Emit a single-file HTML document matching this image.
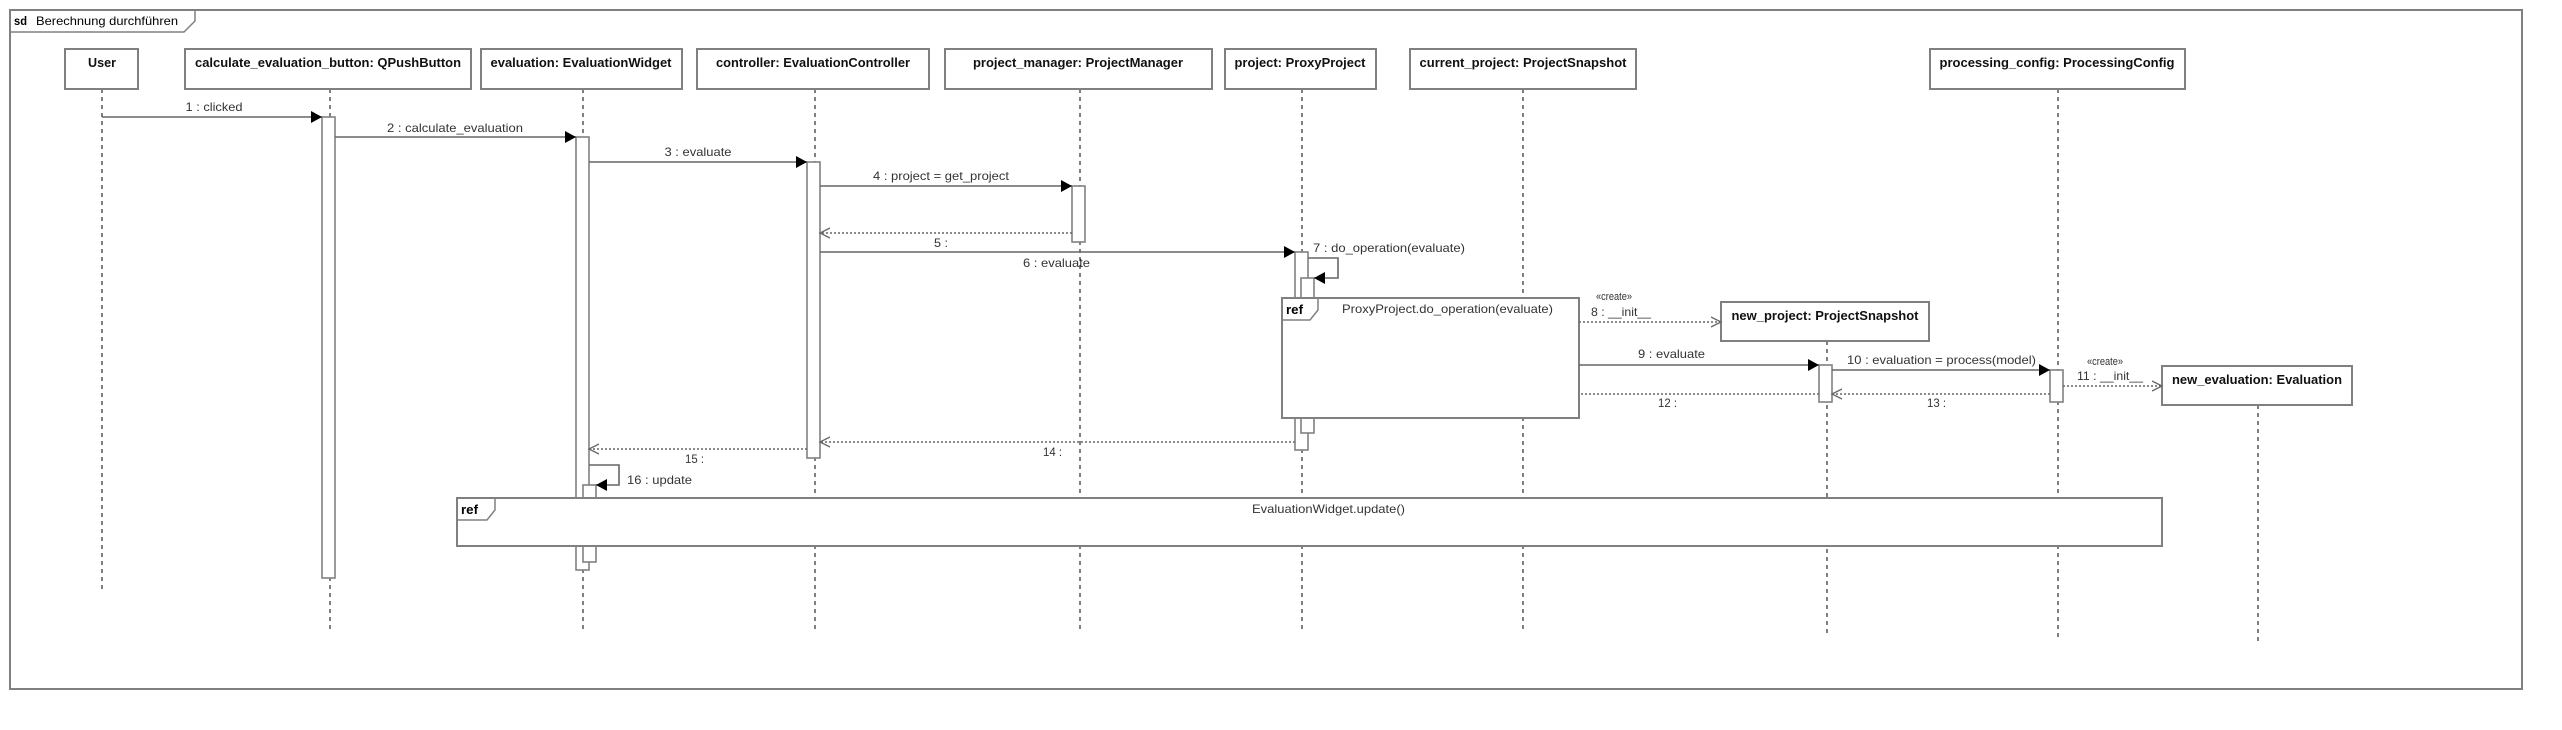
<!DOCTYPE html>
<html><head><meta charset="utf-8"><style>
html,body{margin:0;padding:0;background:#fff;}
svg{display:block;}
text{font-family:"Liberation Sans Narrow","Liberation Sans",sans-serif;}
.h{font-size:13px;font-weight:bold;fill:#111;}
.m{font-size:12px;fill:#333;}
.box{fill:#fff;stroke:#808080;stroke-width:2;}
.act{fill:#fff;stroke:#808080;stroke-width:1.6;}
.ll{stroke:#000;stroke-width:1;stroke-dasharray:4,4;fill:none;}
.msg{stroke:#666;stroke-width:1.6;fill:none;}
.ret{stroke:#666;stroke-width:1.6;stroke-dasharray:2,2;fill:none;}
</style></head><body>
<svg width="2562" height="730" viewBox="0 0 2562 730" xmlns="http://www.w3.org/2000/svg">
<defs>
<marker id="f" markerWidth="12" markerHeight="12" refX="11" refY="6" orient="auto" markerUnits="userSpaceOnUse"><path d="M0,0 L11,6 L0,12 z" fill="#000"/></marker>
<marker id="o" markerWidth="12" markerHeight="12" refX="10" refY="6" orient="auto" markerUnits="userSpaceOnUse"><path d="M0,1 L10,6 L0,11" fill="none" stroke="#666" stroke-width="1.3"/></marker>
</defs>
<rect x="10" y="10" width="2512" height="679" fill="none" stroke="#808080" stroke-width="2"/>
<path d="M10,32 L184,32 L195,21 L195,10" fill="none" stroke="#808080" stroke-width="1.5"/>
<text x="14" y="25" style="font-size:12px;font-weight:bold" textLength="13" lengthAdjust="spacingAndGlyphs">sd</text>
<text x="36" y="25" style="font-size:12px" textLength="142" lengthAdjust="spacingAndGlyphs">Berechnung durchführen</text>

<line class="ll" x1="102" y1="89" x2="102" y2="591"/>
<line class="ll" x1="330" y1="89" x2="330" y2="633"/>
<line class="ll" x1="583" y1="89" x2="583" y2="633"/>
<line class="ll" x1="815" y1="89" x2="815" y2="633"/>
<line class="ll" x1="1080" y1="89" x2="1080" y2="633"/>
<line class="ll" x1="1302" y1="89" x2="1302" y2="633"/>
<line class="ll" x1="1523" y1="89" x2="1523" y2="633"/>
<line class="ll" x1="1827" y1="341" x2="1827" y2="635"/>
<line class="ll" x1="2058" y1="89" x2="2058" y2="639"/>
<line class="ll" x1="2258" y1="405" x2="2258" y2="642"/>

<rect class="box" x="65" y="49" width="73" height="40"/><text class="h" x="102" y="67" text-anchor="middle" textLength="28" lengthAdjust="spacingAndGlyphs">User</text>
<rect class="box" x="185" y="49" width="286" height="40"/><text class="h" x="328" y="67" text-anchor="middle" textLength="266" lengthAdjust="spacingAndGlyphs">calculate_evaluation_button: QPushButton</text>
<rect class="box" x="481" y="49" width="201" height="40"/><text class="h" x="581" y="67" text-anchor="middle" textLength="181" lengthAdjust="spacingAndGlyphs">evaluation: EvaluationWidget</text>
<rect class="box" x="697" y="49" width="232" height="40"/><text class="h" x="813" y="67" text-anchor="middle" textLength="194" lengthAdjust="spacingAndGlyphs">controller: EvaluationController</text>
<rect class="box" x="945" y="49" width="267" height="40"/><text class="h" x="1078" y="67" text-anchor="middle" textLength="210" lengthAdjust="spacingAndGlyphs">project_manager: ProjectManager</text>
<rect class="box" x="1225" y="49" width="151" height="40"/><text class="h" x="1300" y="67" text-anchor="middle" textLength="131" lengthAdjust="spacingAndGlyphs">project: ProxyProject</text>
<rect class="box" x="1410" y="49" width="226" height="40"/><text class="h" x="1523" y="67" text-anchor="middle" textLength="207" lengthAdjust="spacingAndGlyphs">current_project: ProjectSnapshot</text>
<rect class="box" x="1930" y="49" width="255" height="40"/><text class="h" x="2057" y="67" text-anchor="middle" textLength="235" lengthAdjust="spacingAndGlyphs">processing_config: ProcessingConfig</text>
<rect class="box" x="1721" y="302" width="208" height="39"/><text class="h" x="1825" y="320" text-anchor="middle" textLength="187" lengthAdjust="spacingAndGlyphs">new_project: ProjectSnapshot</text>
<rect class="box" x="2162" y="366" width="190" height="39"/><text class="h" x="2257" y="384" text-anchor="middle" textLength="170" lengthAdjust="spacingAndGlyphs">new_evaluation: Evaluation</text>

<rect class="act" x="322" y="117" width="13" height="461"/>
<rect class="act" x="576" y="137" width="13" height="433"/>
<rect class="act" x="583" y="485" width="13" height="77"/>
<rect class="act" x="807" y="162" width="13" height="296"/>
<rect class="act" x="1072" y="186" width="13" height="56"/>
<rect class="act" x="1295" y="252" width="13" height="198"/>
<rect class="act" x="1301" y="278" width="13" height="155"/>
<rect class="act" x="1819" y="365" width="13" height="37"/>
<rect class="act" x="2050" y="370" width="13" height="32"/>

<line class="msg" x1="102" y1="117" x2="322" y2="117" marker-end="url(#f)"/><text class="m" x="214" y="111" text-anchor="middle" textLength="57" lengthAdjust="spacingAndGlyphs">1 : clicked</text>
<line class="msg" x1="335" y1="137" x2="576" y2="137" marker-end="url(#f)"/><text class="m" x="455" y="132" text-anchor="middle" textLength="136" lengthAdjust="spacingAndGlyphs">2 : calculate_evaluation</text>
<line class="msg" x1="589" y1="162" x2="807" y2="162" marker-end="url(#f)"/><text class="m" x="698" y="156" text-anchor="middle" textLength="67" lengthAdjust="spacingAndGlyphs">3 : evaluate</text>
<line class="msg" x1="820" y1="186" x2="1072" y2="186" marker-end="url(#f)"/><text class="m" x="873" y="180" textLength="136" lengthAdjust="spacingAndGlyphs">4 : project = get_project</text>
<line class="ret" x1="1072" y1="233" x2="820" y2="233" marker-end="url(#o)"/><text class="m" x="934" y="247" textLength="14" lengthAdjust="spacingAndGlyphs">5 :</text>
<line class="msg" x1="820" y1="252" x2="1295" y2="252" marker-end="url(#f)"/><text class="m" x="1023" y="267" textLength="67" lengthAdjust="spacingAndGlyphs">6 : evaluate</text>
<path class="msg" d="M1308,258 L1338,258 L1338,278 L1314,278" marker-end="url(#f)"/><text class="m" x="1313" y="252" textLength="152" lengthAdjust="spacingAndGlyphs">7 : do_operation(evaluate)</text>

<rect x="1282" y="298" width="297" height="120" fill="#fff" stroke="#808080" stroke-width="2"/>
<path d="M1282,320 L1310,320 L1318,310 L1318,298" fill="none" stroke="#808080" stroke-width="1.5"/>
<text x="1286" y="314" style="font-size:13px;font-weight:bold" textLength="17" lengthAdjust="spacingAndGlyphs">ref</text>
<text class="m" x="1342" y="313" textLength="211" lengthAdjust="spacingAndGlyphs">ProxyProject.do_operation(evaluate)</text>

<line class="ret" x1="1579" y1="322" x2="1721" y2="322" marker-end="url(#o)"/>
<text class="m" x="1596" y="300" style="font-size:11px" textLength="36" lengthAdjust="spacingAndGlyphs">«create»</text><text class="m" x="1591" y="316" textLength="60" lengthAdjust="spacingAndGlyphs">8 : __init__</text>
<line class="msg" x1="1579" y1="365" x2="1819" y2="365" marker-end="url(#f)"/><text class="m" x="1638" y="358" textLength="67" lengthAdjust="spacingAndGlyphs">9 : evaluate</text>
<line class="msg" x1="1832" y1="370" x2="2050" y2="370" marker-end="url(#f)"/><text class="m" x="1847" y="364" textLength="189" lengthAdjust="spacingAndGlyphs">10 : evaluation = process(model)</text>
<line class="ret" x1="2063" y1="386" x2="2162" y2="386" marker-end="url(#o)"/>
<text class="m" x="2087" y="365" style="font-size:11px" textLength="36" lengthAdjust="spacingAndGlyphs">«create»</text><text class="m" x="2077" y="380" textLength="66" lengthAdjust="spacingAndGlyphs">11 : __init__</text>
<line class="ret" x1="2050" y1="394" x2="1832" y2="394" marker-end="url(#o)"/><text class="m" x="1927" y="407" textLength="19" lengthAdjust="spacingAndGlyphs">13 :</text>
<line class="ret" x1="1819" y1="394" x2="1579" y2="394"/><text class="m" x="1658" y="407" textLength="19" lengthAdjust="spacingAndGlyphs">12 :</text>
<line class="ret" x1="1295" y1="442" x2="820" y2="442" marker-end="url(#o)"/><text class="m" x="1043" y="456" textLength="19" lengthAdjust="spacingAndGlyphs">14 :</text>
<line class="ret" x1="807" y1="449" x2="589" y2="449" marker-end="url(#o)"/><text class="m" x="685" y="463" textLength="19" lengthAdjust="spacingAndGlyphs">15 :</text>
<path class="msg" d="M589,465 L619,465 L619,485 L596,485" marker-end="url(#f)"/><text class="m" x="627" y="484" textLength="65" lengthAdjust="spacingAndGlyphs">16 : update</text>

<rect x="457" y="498" width="1705" height="48" fill="#fff" stroke="#808080" stroke-width="2"/>
<path d="M457,520 L487,520 L495,510 L495,498" fill="none" stroke="#808080" stroke-width="1.5"/>
<text x="461" y="514" style="font-size:13px;font-weight:bold" textLength="17" lengthAdjust="spacingAndGlyphs">ref</text>
<text class="m" x="1252" y="513" textLength="153" lengthAdjust="spacingAndGlyphs">EvaluationWidget.update()</text>
</svg>
</body></html>
